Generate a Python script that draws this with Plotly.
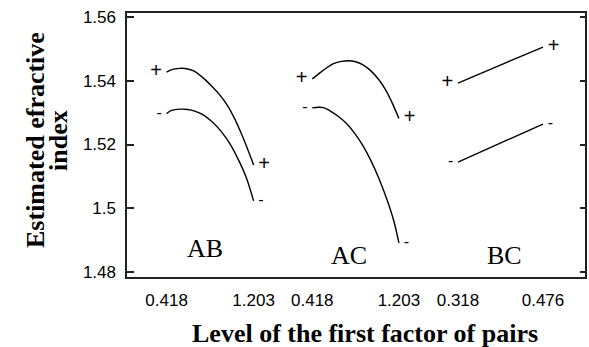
import plotly.graph_objects as go

# ---- data ----
pairs = ["AB", "AC", "BC"]
tick_levels = {"AB": [0.418, 1.203], "AC": [0.418, 1.203], "BC": [0.318, 0.476]}

ab_x_hi = [0.418, 0.463, 0.536, 0.600, 0.663, 0.745, 0.826, 0.899, 0.972, 1.035, 1.099, 1.153, 1.203]
ab_y_hi = [1.5427, 1.5435, 1.5439, 1.5438, 1.5431, 1.5410, 1.5383, 1.5355, 1.5320, 1.5279, 1.5229, 1.5182, 1.5136]
ab_x_lo = [0.418, 0.463, 0.536, 0.609, 0.672, 0.745, 0.826, 0.908, 0.990, 1.062, 1.135, 1.203]
ab_y_lo = [1.5297, 1.5307, 1.5311, 1.5310, 1.5305, 1.5294, 1.5272, 1.5242, 1.5202, 1.5155, 1.5098, 1.5023]

ac_x_hi = [0.418, 0.473, 0.537, 0.610, 0.683, 0.747, 0.810, 0.874, 0.947, 1.020, 1.084, 1.139, 1.203]
ac_y_hi = [1.5406, 1.5421, 1.5438, 1.5454, 1.5461, 1.5463, 1.5460, 1.5451, 1.5432, 1.5404, 1.5371, 1.5333, 1.5282]
ac_x_lo = [0.418, 0.473, 0.518, 0.582, 0.655, 0.728, 0.801, 0.874, 0.947, 1.020, 1.093, 1.157, 1.203]
ac_y_lo = [1.5315, 1.5317, 1.5316, 1.5305, 1.5288, 1.5266, 1.5236, 1.5198, 1.5151, 1.5095, 1.5029, 1.4960, 1.4891]

bc_x_hi = [0.318, 0.476]
bc_y_hi = [1.5393, 1.5506]
bc_x_lo = [0.318, 0.476]
bc_y_lo = [1.5145, 1.5264]

y_ticks = [1.48, 1.5, 1.52, 1.54, 1.56]
y_range = [1.4781, 1.5616]

x_title = "<b>Level of the first factor of pairs</b>"
y_title_lines = ["<b>Estimated efractive</b>", "<b>index</b>"]

# ---- layout geometry ----
x_ranges = {"AB": [0.0517, 1.4413], "AC": [0.1253, 1.4851], "BC": [0.2660, 0.5559]}
x_domains = {"AB": [0.0, 0.3348], "AC": [0.3348, 0.6609], "BC": [0.6609, 1.0]}
axis_ids = {"AB": "x", "AC": "x2", "BC": "x3"}
label_pos = {"AB": (0.760, 1.4875), "AC": (0.749, 1.4853), "BC": (0.405, 1.4853)}

series = {
    "AB": [(ab_x_hi, ab_y_hi, "+"), (ab_x_lo, ab_y_lo, "-")],
    "AC": [(ac_x_hi, ac_y_hi, "+"), (ac_x_lo, ac_y_lo, "-")],
    "BC": [(bc_x_hi, bc_y_hi, "+"), (bc_x_lo, bc_y_lo, "-")],
}
sym_size = {"+": 20, "-": 16}

fig = go.Figure()

for p in pairs:
    for xs, ys, sym in series[p]:
        n = len(xs)
        texts = [sym] + [""] * (n - 2) + [sym]
        pos = ["middle left"] + ["middle center"] * (n - 2) + ["middle right"]
        fig.add_trace(go.Scatter(
            x=xs, y=ys, mode="lines+markers+text", text=texts, textposition=pos,
            textfont=dict(family="Liberation Sans", size=sym_size[sym], color="black"),
            marker=dict(size=6, color="rgba(0,0,0,0)"),
            line=dict(color="black", width=1.4, shape="spline", smoothing=1.0),
            xaxis=axis_ids[p], yaxis="y", showlegend=False, hoverinfo="skip",
        ))

# invisible trace to activate the right-hand mirrored tick axis
fig.add_trace(go.Scatter(x=[None], y=[None], xaxis="x3", yaxis="y2",
                         showlegend=False, hoverinfo="skip"))

tick_font = dict(family="Liberation Sans", size=17, color="black")
layout_axes = {}
for p in pairs:
    key = "xaxis" if axis_ids[p] == "x" else "xaxis" + axis_ids[p][1:]
    layout_axes[key] = dict(
        domain=x_domains[p], range=x_ranges[p], anchor="y",
        tickvals=tick_levels[p], ticktext=[f"{v:.3f}" for v in tick_levels[p]],
        ticks="", showline=False, showgrid=False, zeroline=False,
        tickfont=tick_font, ticklabelstandoff=10, automargin=False,
    )

fig.update_layout(
    width=589, height=347,
    margin=dict(l=126, r=3, t=12, b=69),
    paper_bgcolor="white", plot_bgcolor="white",
    yaxis=dict(range=y_range, tickvals=y_ticks, ticks="inside", ticklen=7,
               tickwidth=1.5, tickcolor="#222", showline=False, showgrid=False,
               zeroline=False, tickfont=tick_font, ticklabelstandoff=10,
               anchor="free", position=0, automargin=False),
    yaxis2=dict(range=y_range, tickvals=y_ticks, ticks="inside", ticklen=6,
                tickwidth=1.5, tickcolor="#222", showticklabels=False,
                showline=False, showgrid=False, zeroline=False,
                overlaying="y", side="right", anchor="free", position=1,
                automargin=False),
    **layout_axes,
)

fig.add_shape(type="rect", xref="paper", yref="paper", x0=0, x1=1, y0=0, y1=1,
              line=dict(color="#222", width=2), fillcolor="rgba(0,0,0,0)")

for p in pairs:
    lx, ly = label_pos[p]
    fig.add_annotation(x=lx, y=ly, xref=axis_ids[p], yref="y", text=p,
                       showarrow=False,
                       font=dict(family="Liberation Serif", size=26, color="black"))

title_font = dict(family="Liberation Serif", size=26, color="black")
fig.add_annotation(x=0.5185, y=-0.2068, xref="paper", yref="paper", text=x_title,
                   showarrow=False, xanchor="center", yanchor="middle", font=title_font)
for i, (line, xp) in enumerate(zip(y_title_lines, [-0.1957, -0.1457])):
    fig.add_annotation(x=xp, y=0.5188, xref="paper", yref="paper", text=line,
                       showarrow=False, textangle=-90, xanchor="center",
                       yanchor="middle", font=title_font)

fig.write_html("out.html")
